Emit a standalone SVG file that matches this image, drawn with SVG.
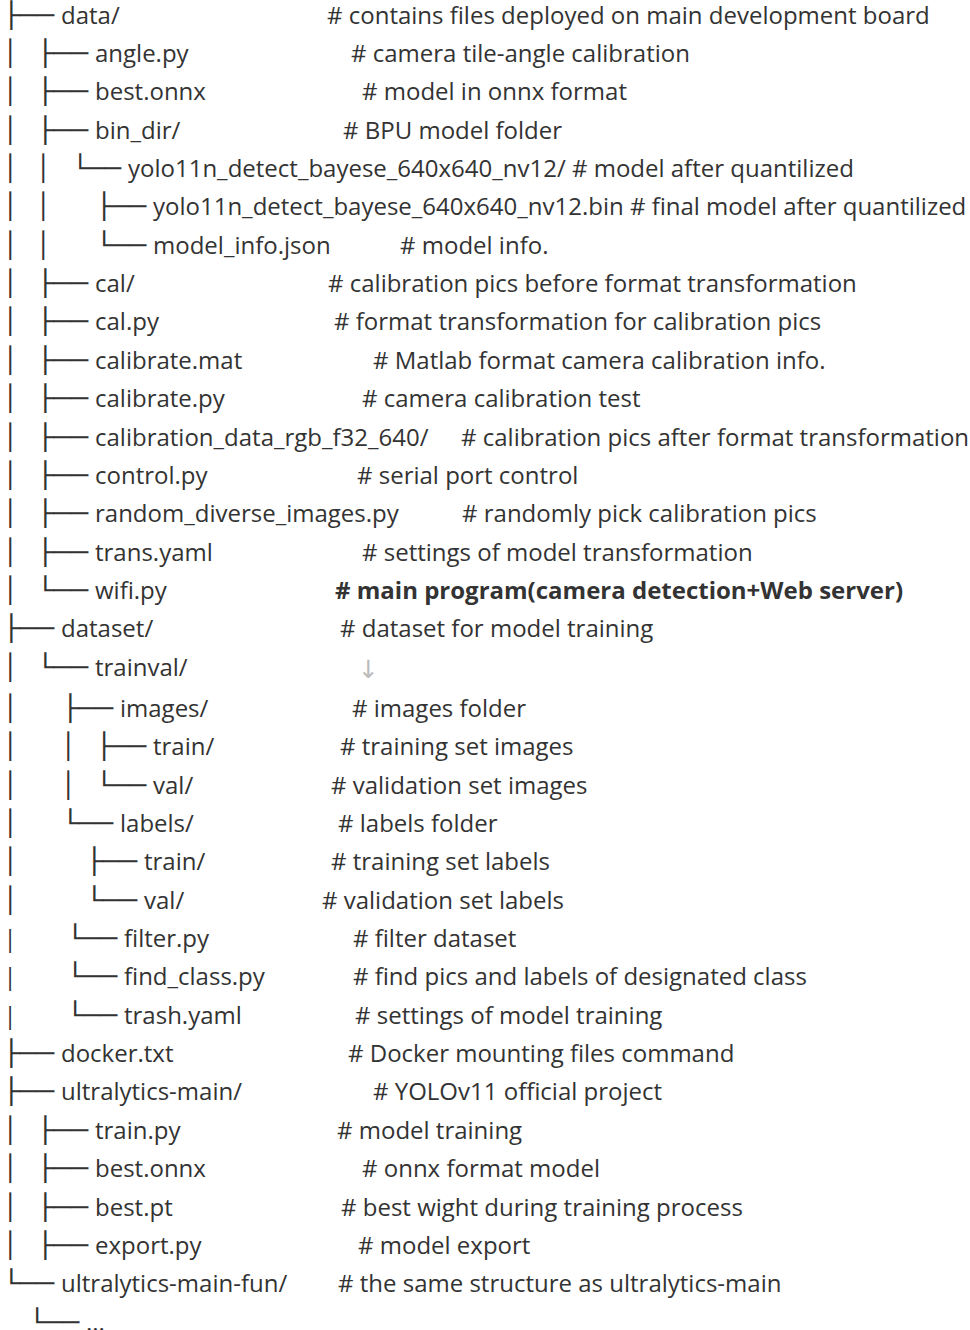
<svg xmlns="http://www.w3.org/2000/svg" width="970" height="1330" viewBox="0 0 970 1330">
<style>
text{font-family:"Open Sans","Noto Sans",sans-serif;font-size:24px;fill:#333333}
.b{font-family:"DejaVu Sans",sans-serif;font-size:25px;fill:#333333}
.t{font-family:"Open Sans",sans-serif;font-size:24px;fill:#333333}
.bold{font-weight:bold}
.arr{font-family:"DejaVu Sans",sans-serif;font-size:25px;fill:#bbbbbb}
</style>
<rect width="970" height="1330" fill="#ffffff"/>
<g transform="translate(0,-0.8)">
<g id="connectors">
<text class="b" x="2.4" y="24.5" textLength="51.6" lengthAdjust="spacingAndGlyphs">├──</text>
<text class="b" x="2.5" y="62.85">│</text><text class="b" x="36.4" y="62.85" textLength="51.6" lengthAdjust="spacingAndGlyphs">├──</text>
<text class="b" x="2.5" y="101.2">│</text><text class="b" x="36.4" y="101.2" textLength="51.6" lengthAdjust="spacingAndGlyphs">├──</text>
<text class="b" x="2.5" y="139.55">│</text><text class="b" x="36.4" y="139.55" textLength="51.6" lengthAdjust="spacingAndGlyphs">├──</text>
<text class="b" x="2.5" y="177.9">│</text><text class="b" x="35.5" y="177.9">│</text><text class="b" x="71.8" y="177.9" textLength="49.2" lengthAdjust="spacingAndGlyphs">└──</text>
<text class="b" x="2.5" y="216.25">│</text><text class="b" x="35.5" y="216.25">│</text><text class="b" x="95.6" y="216.25" textLength="50.4" lengthAdjust="spacingAndGlyphs">├──</text>
<text class="b" x="2.5" y="254.6">│</text><text class="b" x="35.5" y="254.6">│</text><text class="b" x="95.6" y="254.6" textLength="50.4" lengthAdjust="spacingAndGlyphs">└──</text>
<text class="b" x="2.5" y="292.95">│</text><text class="b" x="36.4" y="292.95" textLength="51.6" lengthAdjust="spacingAndGlyphs">├──</text>
<text class="b" x="2.5" y="331.3">│</text><text class="b" x="36.4" y="331.3" textLength="51.6" lengthAdjust="spacingAndGlyphs">├──</text>
<text class="b" x="2.5" y="369.65">│</text><text class="b" x="36.4" y="369.65" textLength="51.6" lengthAdjust="spacingAndGlyphs">├──</text>
<text class="b" x="2.5" y="408">│</text><text class="b" x="36.4" y="408" textLength="51.6" lengthAdjust="spacingAndGlyphs">├──</text>
<text class="b" x="2.5" y="446.35">│</text><text class="b" x="36.4" y="446.35" textLength="51.6" lengthAdjust="spacingAndGlyphs">├──</text>
<text class="b" x="2.5" y="484.7">│</text><text class="b" x="36.4" y="484.7" textLength="51.6" lengthAdjust="spacingAndGlyphs">├──</text>
<text class="b" x="2.5" y="523.05">│</text><text class="b" x="36.4" y="523.05" textLength="51.6" lengthAdjust="spacingAndGlyphs">├──</text>
<text class="b" x="2.5" y="561.4">│</text><text class="b" x="36.4" y="561.4" textLength="51.6" lengthAdjust="spacingAndGlyphs">├──</text>
<text class="b" x="2.5" y="599.75">│</text><text class="b" x="36.4" y="599.75" textLength="51.6" lengthAdjust="spacingAndGlyphs">└──</text>
<text class="b" x="2.4" y="638.1" textLength="51.6" lengthAdjust="spacingAndGlyphs">├──</text>
<text class="b" x="2.5" y="676.45">│</text><text class="b" x="36.4" y="676.45" textLength="51.6" lengthAdjust="spacingAndGlyphs">└──</text>
<text class="b" x="2.5" y="717.8">│</text><text class="b" x="61.4" y="717.8" textLength="51.6" lengthAdjust="spacingAndGlyphs">├──</text>
<text class="b" x="2.5" y="756.15">│</text><text class="b" x="60.5" y="756.15">│</text><text class="b" x="95.6" y="756.15" textLength="50.4" lengthAdjust="spacingAndGlyphs">├──</text>
<text class="b" x="2.5" y="794.5">│</text><text class="b" x="60.5" y="794.5">│</text><text class="b" x="95.6" y="794.5" textLength="50.4" lengthAdjust="spacingAndGlyphs">└──</text>
<text class="b" x="2.5" y="832.85">│</text><text class="b" x="61.4" y="832.85" textLength="51.6" lengthAdjust="spacingAndGlyphs">└──</text>
<text class="b" x="2.5" y="871.2">│</text><text class="b" x="85.4" y="871.2" textLength="51.6" lengthAdjust="spacingAndGlyphs">├──</text>
<text class="b" x="2.5" y="909.55">│</text><text class="b" x="85.4" y="909.55" textLength="51.6" lengthAdjust="spacingAndGlyphs">└──</text>
<text class="t" x="3.5" y="947.9">|</text><text class="b" x="66.6" y="947.9" textLength="50.4" lengthAdjust="spacingAndGlyphs">└──</text>
<text class="t" x="3.5" y="986.25">|</text><text class="b" x="66.6" y="986.25" textLength="50.4" lengthAdjust="spacingAndGlyphs">└──</text>
<text class="t" x="3.5" y="1024.6">|</text><text class="b" x="66.6" y="1024.6" textLength="50.4" lengthAdjust="spacingAndGlyphs">└──</text>
<text class="b" x="2.4" y="1062.95" textLength="51.6" lengthAdjust="spacingAndGlyphs">├──</text>
<text class="b" x="2.4" y="1101.3" textLength="51.6" lengthAdjust="spacingAndGlyphs">├──</text>
<text class="b" x="2.5" y="1139.65">│</text><text class="b" x="36.4" y="1139.65" textLength="51.6" lengthAdjust="spacingAndGlyphs">├──</text>
<text class="b" x="2.5" y="1178">│</text><text class="b" x="36.4" y="1178" textLength="51.6" lengthAdjust="spacingAndGlyphs">├──</text>
<text class="b" x="2.5" y="1216.35">│</text><text class="b" x="36.4" y="1216.35" textLength="51.6" lengthAdjust="spacingAndGlyphs">├──</text>
<text class="b" x="2.5" y="1254.7">│</text><text class="b" x="36.4" y="1254.7" textLength="51.6" lengthAdjust="spacingAndGlyphs">├──</text>
<text class="b" x="2.4" y="1293.05" textLength="51.6" lengthAdjust="spacingAndGlyphs">└──</text>
<text class="b" x="28.6" y="1331.4" textLength="50.4" lengthAdjust="spacingAndGlyphs">└──</text>
</g>
<g id="n-data"><text x="61" y="24.5">data/</text><text x="327" y="24.5"># contains files deployed on main development board</text></g>
<g id="n-angle"><text x="95" y="62.85">angle.py</text><text x="351" y="62.85"># camera tile-angle calibration</text></g>
<g id="n-best-onnx"><text x="95" y="101.2">best.onnx</text><text x="362" y="101.2"># model in onnx format</text></g>
<g id="n-bin-dir"><text x="95" y="139.55">bin_dir/</text><text x="343" y="139.55"># BPU model folder</text></g>
<g id="n-yolo-dir"><text x="128" y="177.9">yolo11n_detect_bayese_640x640_nv12/ # model after quantilized</text></g>
<g id="n-yolo-bin"><text x="153" y="216.25">yolo11n_detect_bayese_640x640_nv12.bin # final model after quantilized</text></g>
<g id="n-model-info"><text x="153" y="254.6">model_info.json</text><text x="400" y="254.6"># model info.</text></g>
<g id="n-cal-dir"><text x="95" y="292.95">cal/</text><text x="328" y="292.95"># calibration pics before format transformation</text></g>
<g id="n-cal-py"><text x="95" y="331.3">cal.py</text><text x="334" y="331.3"># format transformation for calibration pics</text></g>
<g id="n-calibrate-mat"><text x="95" y="369.65">calibrate.mat</text><text x="373" y="369.65"># Matlab format camera calibration info.</text></g>
<g id="n-calibrate-py"><text x="95" y="408">calibrate.py</text><text x="362" y="408"># camera calibration test</text></g>
<g id="n-calibration-data"><text x="95" y="446.35">calibration_data_rgb_f32_640/</text><text x="461" y="446.35"># calibration pics after format transformation</text></g>
<g id="n-control"><text x="95" y="484.7">control.py</text><text x="357" y="484.7"># serial port control</text></g>
<g id="n-random"><text x="95" y="523.05">random_diverse_images.py</text><text x="462" y="523.05"># randomly pick calibration pics</text></g>
<g id="n-trans"><text x="95" y="561.4">trans.yaml</text><text x="362" y="561.4"># settings of model transformation</text></g>
<g id="n-wifi"><text x="95" y="599.75">wifi.py</text><text class="bold" x="335" y="599.75"># main program(camera detection+Web server)</text></g>
<g id="n-dataset"><text x="61" y="638.1">dataset/</text><text x="340" y="638.1"># dataset for model training</text></g>
<g id="n-trainval"><text x="95" y="676.45">trainval/</text><text class="arr" x="358" y="679">↓</text></g>
<g id="n-images"><text x="120" y="717.8">images/</text><text x="352" y="717.8"># images folder</text></g>
<g id="n-images-train"><text x="153" y="756.15">train/</text><text x="340" y="756.15"># training set images</text></g>
<g id="n-images-val"><text x="153" y="794.5">val/</text><text x="331" y="794.5"># validation set images</text></g>
<g id="n-labels"><text x="120" y="832.85">labels/</text><text x="338" y="832.85"># labels folder</text></g>
<g id="n-labels-train"><text x="144" y="871.2">train/</text><text x="331" y="871.2"># training set labels</text></g>
<g id="n-labels-val"><text x="144" y="909.55">val/</text><text x="322" y="909.55"># validation set labels</text></g>
<g id="n-filter"><text x="124" y="947.9">filter.py</text><text x="353" y="947.9"># filter dataset</text></g>
<g id="n-find-class"><text x="124" y="986.25">find_class.py</text><text x="353" y="986.25"># find pics and labels of designated class</text></g>
<g id="n-trash"><text x="124" y="1024.6">trash.yaml</text><text x="355" y="1024.6"># settings of model training</text></g>
<g id="n-docker"><text x="61" y="1062.95">docker.txt</text><text x="348" y="1062.95"># Docker mounting files command</text></g>
<g id="n-ultra"><text x="61" y="1101.3">ultralytics-main/</text><text x="373" y="1101.3"># YOLOv11 official project</text></g>
<g id="n-train-py"><text x="95" y="1139.65">train.py</text><text x="337" y="1139.65"># model training</text></g>
<g id="n-ultra-onnx"><text x="95" y="1178">best.onnx</text><text x="362" y="1178"># onnx format model</text></g>
<g id="n-best-pt"><text x="95" y="1216.35">best.pt</text><text x="341" y="1216.35"># best wight during training process</text></g>
<g id="n-export"><text x="95" y="1254.7">export.py</text><text x="358" y="1254.7"># model export</text></g>
<g id="n-ultra-fun"><text x="61" y="1293.05">ultralytics-main-fun/</text><text x="338" y="1293.05"># the same structure as ultralytics-main</text></g>
<g id="n-more"><text x="86" y="1331.4">...</text></g>
</g>
</svg>
